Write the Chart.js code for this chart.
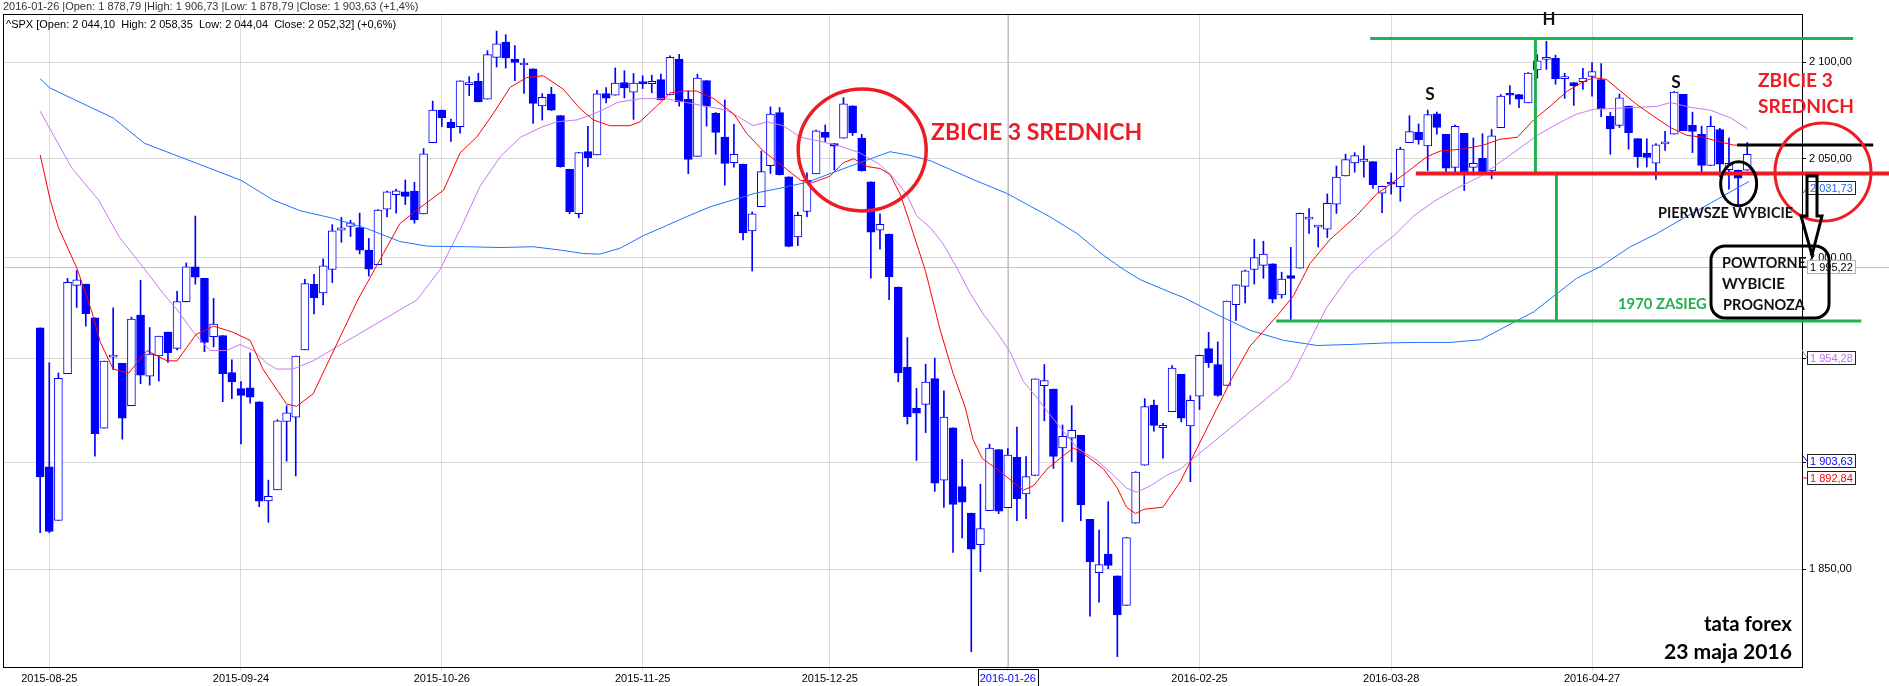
<!DOCTYPE html>
<html>
<head>
<meta charset="utf-8">
<script src="https://cdn.jsdelivr.net/npm/chart.js@4.4.1/dist/chart.umd.min.js"></script>
<style>
  html, body { margin: 0; padding: 0; background: #fff; }
  canvas { display: block; }
</style>
</head>
<body>
<canvas id="spxChart" width="1889" height="686"></canvas>
<script>
// ^SPX daily candles, 2015-08-24 .. 2016-05-20 (x = trading day index)
const openArr = [
  1965.15, 1898.08, 1872.75, 1942.77, 1986.06, 1986.73,
  1970.09, 1916.52, 1950.79, 1947.76, 1927.30, 1971.45, 1941.59, 1951.45, 1963.06, 1955.10, 1978.02, 1995.33, 1989.66, 1960.84, 1961.39, 1943.24, 1935.50, 1935.93, 1929.18, 1881.90, 1887.14,
  1919.65, 1921.77, 1954.33, 1986.63, 1982.34, 1994.01, 2013.73, 2015.65, 2015.00, 2003.66, 1996.47, 2024.37, 2031.73, 2033.13, 2033.47, 2021.88, 2058.19, 2075.08, 2068.75, 2066.48, 2088.35, 2090.00,
  2080.76, 2102.63, 2110.60, 2101.68, 2098.60, 2096.56, 2077.19, 2083.41, 2072.29, 2044.64, 2022.08, 2053.67, 2051.99, 2083.70, 2082.82, 2089.41, 2084.42, 2089.30, 2088.82, 2090.95,
  2082.93, 2101.71, 2080.71, 2051.24, 2090.42, 2073.39, 2061.17, 2047.93, 2047.27, 2013.37, 2025.55, 2046.50, 2073.76, 2040.81, 2010.27, 2023.15, 2042.20, 2063.52, 2057.77, 2060.54, 2077.34, 2060.59,
  2038.20, 2013.78, 2011.71, 1985.32, 1945.97, 1926.12, 1927.83, 1940.34, 1891.68, 1916.68, 1888.66, 1876.18, 1861.46, 1877.40, 1906.28, 1878.79, 1902.52, 1885.22, 1894.00,
  1936.94, 1935.26, 1907.07, 1911.67, 1913.07, 1873.25, 1848.46, 1857.10, 1847.00, 1833.40, 1871.44, 1898.80, 1927.57, 1916.74, 1924.44, 1942.38, 1917.56, 1931.87, 1954.95, 1947.13,
  1937.09, 1976.60, 1985.60, 1994.01, 1996.11, 1996.88, 1981.44, 1990.97, 1994.71, 2019.27, 2015.27, 2014.24, 2026.90, 2041.16, 2047.88, 2048.64, 2048.55, 2032.48, 2037.89, 2035.75, 2058.27, 2063.77,
  2056.62, 2073.19, 2062.50, 2045.56, 2063.01, 2045.54, 2050.23, 2043.72, 2065.92, 2082.89, 2083.10, 2078.83, 2096.05, 2101.52, 2102.09, 2091.49, 2089.37, 2089.84, 2092.57, 2090.93, 2071.82,
  2067.17, 2077.18, 2060.30, 2052.95, 2047.77, 2057.55, 2062.63, 2083.29, 2067.17, 2062.50, 2046.53, 2065.04, 2044.38, 2044.21, 2044.10
];
const highArr = [
  1965.15, 1948.04, 1943.09, 1989.60, 1993.48, 1986.73,
  1970.09, 1948.91, 1975.01, 1947.76, 1970.42, 1988.63, 1965.29, 1961.05, 1963.06, 1983.19, 1997.26, 2020.86, 1989.66, 1979.64, 1961.39, 1949.52, 1938.88, 1952.89, 1929.18, 1891.73, 1920.53,
  1927.21, 1951.36, 1989.17, 1991.62, 1999.31, 2016.50, 2020.13, 2018.66, 2022.34, 2009.56, 2024.15, 2033.54, 2034.45, 2039.12, 2037.97, 2055.20, 2079.74, 2075.14, 2070.37, 2090.35, 2092.52, 2094.32,
  2106.20, 2116.48, 2114.59, 2108.78, 2101.91, 2096.56, 2083.67, 2086.94, 2072.29, 2044.64, 2053.22, 2066.69, 2085.31, 2086.74, 2097.06, 2095.61, 2094.12, 2093.00, 2093.29, 2093.81,
  2103.37, 2104.27, 2085.00, 2093.84, 2090.42, 2073.85, 2080.33, 2067.65, 2047.27, 2022.92, 2053.87, 2076.72, 2076.37, 2040.81, 2022.90, 2042.74, 2064.73, 2067.36, 2057.77, 2081.56, 2077.34, 2062.54,
  2038.20, 2021.94, 2011.71, 1985.32, 1960.40, 1935.65, 1947.38, 1950.33, 1934.47, 1916.68, 1901.44, 1876.18, 1889.85, 1908.85, 1906.28, 1906.73, 1916.98, 1902.96, 1940.24,
  1947.20, 1935.26, 1918.01, 1927.35, 1913.07, 1873.25, 1868.25, 1881.60, 1847.00, 1864.78, 1895.77, 1930.68, 1930.00, 1918.78, 1946.70, 1942.38, 1932.08, 1951.83, 1962.96, 1958.27,
  1978.35, 1986.51, 1993.69, 2009.13, 2008.16, 1996.88, 1992.69, 2005.08, 2022.37, 2024.57, 2015.94, 2032.02, 2046.24, 2052.36, 2053.13, 2056.60, 2048.55, 2036.04, 2042.67, 2055.91, 2072.21, 2067.92,
  2075.07, 2074.02, 2062.50, 2067.33, 2063.01, 2060.63, 2062.93, 2065.05, 2083.18, 2087.84, 2083.22, 2094.66, 2104.05, 2111.05, 2103.78, 2094.32, 2089.37, 2096.87, 2099.89, 2099.30, 2073.85,
  2083.42, 2077.18, 2060.30, 2060.23, 2057.72, 2064.15, 2084.87, 2083.29, 2073.99, 2066.79, 2071.88, 2065.69, 2060.61, 2044.21, 2058.35
];
const lowArr = [
  1867.01, 1867.08, 1872.75, 1942.77, 1975.19, 1965.98,
  1903.07, 1916.52, 1944.72, 1911.21, 1927.30, 1937.88, 1937.19, 1939.19, 1948.27, 1954.30, 1977.93, 1986.73, 1953.45, 1955.80, 1929.22, 1930.67, 1908.92, 1928.46, 1879.21, 1871.91, 1887.14,
  1900.70, 1893.70, 1954.33, 1971.99, 1976.44, 1987.53, 2007.61, 2010.55, 2001.78, 1990.73, 1996.47, 2020.46, 2022.31, 2026.61, 2017.22, 2021.88, 2058.19, 2066.53, 2058.84, 2063.11, 2082.63, 2079.34,
  2080.76, 2097.51, 2096.98, 2090.41, 2083.74, 2068.24, 2069.91, 2074.85, 2045.66, 2022.02, 2019.94, 2045.90, 2051.99, 2078.76, 2082.82, 2081.39, 2070.29, 2086.30, 2084.13, 2080.41,
  2082.93, 2077.11, 2042.35, 2051.24, 2066.78, 2052.32, 2036.53, 2045.67, 2008.80, 1993.26, 2025.55, 2042.43, 2041.66, 2005.33, 2005.93, 2020.49, 2042.20, 2058.73, 2044.20, 2060.54, 2061.97, 2043.62,
  1989.68, 2004.17, 1979.05, 1938.83, 1918.46, 1901.10, 1914.35, 1886.41, 1878.93, 1857.83, 1864.60, 1812.29, 1848.98, 1877.40, 1875.97, 1878.79, 1872.70, 1873.65, 1894.00,
  1920.03, 1897.29, 1872.23, 1900.52, 1872.65, 1828.46, 1834.94, 1850.32, 1810.10, 1833.40, 1871.44, 1898.80, 1915.09, 1902.17, 1924.44, 1919.44, 1891.00, 1925.41, 1945.78, 1931.81,
  1937.09, 1968.80, 1977.37, 1986.77, 1989.61, 1977.43, 1979.84, 1969.25, 1994.71, 2012.05, 2005.23, 2010.04, 2022.16, 2041.16, 2043.14, 2040.57, 2034.86, 2022.49, 2031.96, 2028.31, 2058.27, 2057.46,
  2043.98, 2062.57, 2042.56, 2043.09, 2033.80, 2041.69, 2041.88, 2039.74, 2065.92, 2078.13, 2076.31, 2078.83, 2091.68, 2096.32, 2088.52, 2081.20, 2077.52, 2085.80, 2082.31, 2071.62, 2052.28,
  2066.11, 2054.89, 2045.55, 2045.77, 2039.45, 2054.31, 2062.63, 2064.46, 2053.13, 2043.13, 2046.53, 2040.82, 2034.49, 2025.91, 2044.04
];
const closeArr = [
  1893.21, 1867.61, 1940.51, 1987.66, 1988.87, 1972.18,
  1913.85, 1948.86, 1951.13, 1921.22, 1969.41, 1942.04, 1952.29, 1961.05, 1953.03, 1978.09, 1995.31, 1990.20, 1958.03, 1966.97, 1942.74, 1938.76, 1932.24, 1931.34, 1881.77, 1884.09, 1920.03,
  1923.82, 1951.36, 1987.05, 1979.92, 1995.83, 2013.43, 2014.89, 2017.46, 2003.69, 1994.24, 2023.86, 2033.11, 2033.66, 2030.77, 2018.94, 2052.51, 2075.15, 2071.18, 2065.89, 2090.35, 2089.41, 2079.36,
  2104.05, 2109.79, 2102.31, 2099.93, 2099.20, 2078.58, 2081.72, 2075.00, 2045.97, 2023.04, 2053.19, 2050.44, 2083.58, 2081.24, 2089.17, 2086.59, 2089.14, 2088.87, 2090.11, 2080.41,
  2102.63, 2079.51, 2049.62, 2091.69, 2077.07, 2063.59, 2047.62, 2052.23, 2012.37, 2021.94, 2043.41, 2073.07, 2041.89, 2005.55, 2021.15, 2038.97, 2064.29, 2060.99, 2056.50, 2078.36, 2063.36, 2043.94,
  2012.66, 2016.71, 1990.26, 1943.09, 1922.03, 1923.67, 1938.68, 1890.28, 1921.84, 1880.33, 1881.33, 1859.33, 1868.99, 1906.90, 1877.08, 1903.63, 1882.95, 1893.36, 1940.24,
  1939.38, 1903.03, 1912.53, 1915.45, 1880.05, 1853.44, 1852.21, 1851.86, 1829.08, 1864.78, 1895.58, 1926.82, 1917.83, 1917.78, 1945.50, 1921.27, 1929.80, 1951.70, 1948.05, 1932.23,
  1978.35, 1986.45, 1993.40, 1999.99, 2001.76, 1979.26, 1989.26, 1989.57, 2022.19, 2019.64, 2015.93, 2027.22, 2040.59, 2049.58, 2051.60, 2049.80, 2036.71, 2035.94, 2037.05, 2055.01, 2063.95, 2059.74,
  2072.78, 2066.13, 2045.17, 2066.66, 2041.91, 2047.60, 2041.99, 2061.72, 2082.42, 2082.78, 2080.73, 2094.34, 2100.80, 2102.40, 2091.48, 2091.58, 2087.79, 2091.70, 2095.15, 2075.81, 2065.30,
  2081.43, 2063.37, 2051.12, 2050.63, 2057.14, 2058.69, 2084.39, 2064.46, 2064.11, 2046.61, 2066.66, 2047.21, 2047.63, 2040.04, 2052.32
];

// moving averages: [day index, value]
const maFast = [
  [0,2052],[1.1,2029],[2,2015],[4,1995],[5.6,1974],[6.6,1958],[8,1945],[9.7,1943],[11.7,1954],[13.9,1949],[15,1949],
  [17.1,1962],[19,1966],[21.1,1963],[23,1959],[24.4,1945],[27,1928],[28.1,1927],[29.9,1933],[34.8,1979],[37.6,2002],
  [39.4,2017],[41.3,2024],[44.2,2034],[46,2053],[47.8,2061],[49.6,2073],[51.5,2087],[53.3,2092],[55.1,2093],[57.3,2086],
  [59.1,2076],[60.6,2070],[62.4,2067],[64.6,2067],[65.7,2069],[67.5,2077],[69,2084],[70.5,2085],[71.9,2085],[73.8,2081],
  [76,2073],[77.4,2063],[79.2,2054],[81.4,2046],[83.3,2039],[84.7,2038],[86.5,2041],[88,2048],[89.1,2050],[90.6,2046],
  [92,2045],[93.1,2042],[94.2,2032],[95.3,2017],[97,1993],[98.6,1964],[100,1943],[101.3,1927],[102.2,1911],[103.2,1902],
  [104.8,1897],[106,1892.84],[107.7,1887],[108.8,1889],[110.3,1897],[111.7,1902],[113.2,1907],[114.7,1903],[116.5,1897],
  [118,1888],[119,1879],[120,1876],[120.9,1878],[123,1879],[124.9,1891],[130.5,1940],[132.5,1956],[135.5,1971],[137.3,1981],
  [139.1,1997],[141.3,2009],[144.2,2021],[146.4,2032],[147.9,2037],[149.7,2043],[151.9,2051],[153.4,2054],[155.9,2055],
  [158.1,2057],[159.9,2060],[161.8,2061],[163.6,2070],[165.4,2077],[167.3,2085],[169.1,2090],[170.2,2092],[171.6,2091],
  [173.1,2085],[174.9,2078],[176.7,2072],[178.6,2066],[180.4,2062],[182.2,2061],[183.7,2059],[185.5,2057],[187,2057]
];
const maMid = [
  [0,2074.5],[3.5,2045],[6.4,2029],[8.7,2010],[11.3,1995],[13.5,1982],[15,1974],[16.8,1963],[18.6,1954],[20.4,1954],
  [21.9,1957],[23.4,1954],[24.8,1948],[25.9,1945],[27.7,1945],[29.9,1949],[41.3,1979],[43.8,1994],[46,2014],[48.2,2036],
  [50.4,2051],[52.6,2061],[54.8,2066],[56.6,2069],[58.8,2070],[60.6,2073],[62.4,2077],[63.2,2079],[65.7,2081],[68.6,2081],
  [70.8,2079],[73,2077],[75.2,2075],[76.7,2071],[78.1,2067],[79.6,2069],[81.4,2067],[83.3,2061],[85.4,2059],[87.6,2056.5],
  [89.8,2053],[92,2047],[93.5,2040],[94.9,2032],[96,2021],[97.5,2015],[98.9,2007],[100.4,1995],[101.9,1982],[103.3,1972],
  [104.8,1963],[106.3,1953],[107.7,1939],[109.2,1931],[110.6,1923],[112.1,1915],[113.6,1907],[115.8,1901],[117.6,1894],
  [119,1888],[120.1,1886],[121.6,1889],[123.4,1894],[124.9,1897],[136.9,1940],[139.1,1959],[140.9,1975],[143.5,1991.5],
  [146.1,2003],[148.3,2011],[150.5,2021],[152.6,2028],[155.2,2035],[157.8,2041],[161.8,2054.5],[164,2062],[166.2,2068],
  [168.3,2073],[170.2,2075.5],[172.7,2076],[174.9,2076.5],[177.1,2077],[178.6,2079],[180.8,2076.5],[183,2075],[185.2,2071],[187,2065.5]
];
const maSlow = [
  [0,2091.4],[1.1,2086.5],[8,2071],[11.4,2058],[22,2039],[25.5,2029],[28.5,2023.5],[32.1,2019.7],[35.8,2014.5],[39.4,2008],
  [42.4,2005.7],[46.7,2005.4],[50.4,2005],[54,2005.4],[57,2003.7],[59.5,2002],[61.3,2001.7],[63.5,2004.6],[66.1,2011],
  [68.6,2016],[70.8,2020.5],[73.4,2025.5],[75.9,2029],[78.5,2032.6],[81.1,2035],[84,2038],[86.9,2043],[89.8,2048],
  [93.1,2053.6],[95.3,2051.7],[97.5,2049],[102.4,2039],[105.9,2032.3],[110.6,2020.5],[113.6,2012],[116.5,2001],[118.7,1994],
  [120.5,1989],[123.1,1984],[125.3,1980],[129,1971.5],[132.5,1964],[136.2,1959],[139.9,1956.5],[143.5,1957],[147.2,1957.7],
  [150.8,1958],[154.5,1958],[157.8,1959.3],[163.6,1973],[168.3,1989.6],[170.9,1995.4],[174.2,2005.4],[177.1,2012],
  [180,2019.7],[183,2027.4],[185.5,2034],[187.2,2038.4]
];

// axis ticks
const xTickPos = [1, 22, 44, 66, 86.5, 106, 127, 148, 170];
const xTickLabels = ['2015-08-25', '2015-09-24', '2015-10-26', '2015-11-25', '2015-12-25', '2016-01-26', '2016-02-25', '2016-03-28', '2016-04-27'];
const yTicks = [1850, 1900, 1950, 2000, 2050, 2100];

// cursor (crosshair) and the value tags on the price axis
const cursorIdx = 106;
const cursorPrice = 1995.22;
const axisTags = [
  { value: 2031.73, text: '#1a6cff', border: '#222', dy: -7 },
  { value: 1995.22, text: '#000000', border: '#b4b4b4', dy: 0 },
  { value: 1954.28, text: '#c070f0', border: '#222', dy: 8 },
  { value: 1903.63, text: '#0000ff', border: '#222', dy: 6 },
  { value: 1892.84, text: '#ff0000', border: '#222', dy: 0 }
];

// hand-drawn pattern levels (head & shoulders)
const headLevel = 2112.6;
const neckLevel = 2042.5;
const targetLevel = 1968.5;
const retestLevel = 2057;

function fmtNum(v) {
  const parts = v.toFixed(2).split('.');
  return parts[0].replace(/\B(?=(\d{3})+(?!\d))/g, ' ') + ',' + parts[1];
}

const BLUE = '#0000ff';
const PAINT_RED = '#ed1c24';
const PAINT_GREEN = '#22b14c';
const LABEL_FONT = 'Lato, "Open Sans", sans-serif';

// draw bold text scaled so that it spans the given width
function fitText(ctx, text, x, y, width, color, align) {
  ctx.font = 'bold 20px ' + LABEL_FONT;
  const size = 20 * width / ctx.measureText(text).width;
  ctx.font = 'bold ' + size.toFixed(1) + 'px ' + LABEL_FONT;
  ctx.fillStyle = color;
  ctx.textAlign = align || 'left';
  ctx.textBaseline = 'middle';
  ctx.fillText(text, x, y);
}

const overlay = {
  id: 'overlay',
  beforeDatasetsDraw(chart) {
    const { ctx, chartArea: a, scales: { x, y } } = chart;
    const cx = Math.round(x.getPixelForValue(cursorIdx)) + 0.5;
    const cy = Math.round(y.getPixelForValue(cursorPrice)) + 0.5;
    ctx.save();
    ctx.strokeStyle = '#c2c2c2';
    ctx.lineWidth = 1;
    ctx.beginPath();
    ctx.moveTo(cx, a.top);
    ctx.lineTo(cx, a.bottom);
    ctx.moveTo(a.left, cy);
    ctx.lineTo(chart.width, cy);
    ctx.stroke();
    ctx.restore();
  },
  afterDraw(chart) {
    const { ctx, chartArea: a, scales: { x, y } } = chart;
    const px = i => x.getPixelForValue(i);
    const py = v => y.getPixelForValue(v);
    ctx.save();

    // plot frame
    ctx.strokeStyle = '#000';
    ctx.lineWidth = 1;
    ctx.strokeRect(a.left - 0.5, a.top - 0.5, a.right - a.left + 1, a.bottom - a.top + 1);

    // info lines
    ctx.font = '11px "Liberation Sans", Arial, sans-serif';
    ctx.textAlign = 'left';
    ctx.textBaseline = 'middle';
    ctx.fillStyle = '#333';
    ctx.fillText('2016-01-26 |Open: 1 878,79 |High: 1 906,73 |Low: 1 878,79 |Close: 1 903,63 (+1,4%)', 3, 7);
    ctx.fillStyle = '#000';
    ctx.fillText('^SPX [Open: 2 044,10  High: 2 058,35  Low: 2 044,04  Close: 2 052,32] (+0,6%)', 6, 25);

    // pattern lines
    const hLine = (v, i0, i1, color, w) => {
      ctx.strokeStyle = color; ctx.lineWidth = w;
      ctx.beginPath(); ctx.moveTo(px(i0), py(v)); ctx.lineTo(typeof i1 === 'number' ? px(i1) : chart.width, py(v)); ctx.stroke();
    };
    const vLine = (i, v0, v1, color, w) => {
      ctx.strokeStyle = color; ctx.lineWidth = w;
      ctx.beginPath(); ctx.moveTo(px(i), py(v0)); ctx.lineTo(px(i), py(v1)); ctx.stroke();
    };
    hLine(headLevel, 145.7, 198.6, PAINT_GREEN, 3);
    hLine(targetLevel, 135.4, 199.5, PAINT_GREEN, 3);
    vLine(163.8, headLevel, neckLevel, PAINT_GREEN, 3);
    vLine(166.1, neckLevel, targetLevel, PAINT_GREEN, 3);
    hLine(neckLevel, 150.7, null, PAINT_RED, 4);
    hLine(retestLevel, 185.9, 200.8, '#000', 3);

    // ellipses
    const ellipse = (i, v, rx, ry, color, w) => {
      ctx.strokeStyle = color; ctx.lineWidth = w;
      ctx.beginPath(); ctx.ellipse(px(i), py(v), rx, ry, 0, 0, Math.PI * 2); ctx.stroke();
    };
    ellipse(90.05, 2054.5, 64, 61, PAINT_RED, 3.5);
    ellipse(195.3, 2043.2, 48, 49, PAINT_RED, 3);
    ellipse(186.06, 2037.2, 18, 22, '#000', 3);

    // value tags on the price axis (with a short leader from the plot edge)
    ctx.font = '11px "Liberation Sans", Arial, sans-serif';
    ctx.textBaseline = 'middle';
    ctx.textAlign = 'left';
    axisTags.forEach(t => {
      const vy = py(t.value);
      const ty = Math.round(vy + t.dy);
      ctx.strokeStyle = t.text; ctx.lineWidth = 1;
      ctx.beginPath(); ctx.moveTo(a.right, vy); ctx.lineTo(1807, ty); ctx.stroke();
      ctx.fillStyle = '#fff';
      ctx.fillRect(1807, ty - 6, 48, 13);
      ctx.strokeStyle = t.border;
      ctx.strokeRect(1807.5, ty - 6.5, 48, 13);
      ctx.fillStyle = t.text;
      ctx.fillText(fmtNum(t.value), 1810, ty + 0.5);
    });

    // down arrow
    ctx.strokeStyle = '#000'; ctx.lineWidth = 3; ctx.lineJoin = 'miter';
    ctx.beginPath();
    ctx.moveTo(1807, 176); ctx.lineTo(1817, 176); ctx.lineTo(1817, 216); ctx.lineTo(1822, 216);
    ctx.lineTo(1812, 255); ctx.lineTo(1801, 216); ctx.lineTo(1807, 216); ctx.closePath();
    ctx.stroke();

    // rounded box
    ctx.lineWidth = 3;
    ctx.beginPath();
    ctx.roundRect(1711, 246, 118, 72, 14);
    ctx.stroke();

    // hand-written labels
    fitText(ctx, 'ZBICIE 3 SREDNICH', 931, 133, 211, PAINT_RED);
    fitText(ctx, 'ZBICIE 3', 1758, 81, 75, PAINT_RED);
    fitText(ctx, 'SREDNICH', 1758, 107, 96, PAINT_RED);
    fitText(ctx, 'H', 1549, 20, 13, '#111', 'center');
    fitText(ctx, 'S', 1430, 94, 9.5, '#111', 'center');
    fitText(ctx, 'S', 1676, 82, 9.5, '#111', 'center');
    fitText(ctx, 'PIERWSZE WYBICIE', 1658, 213, 135, '#111');
    fitText(ctx, 'POWTORNE', 1722, 263, 84, '#111');
    fitText(ctx, 'WYBICIE', 1722, 284, 63, '#111');
    fitText(ctx, 'PROGNOZA', 1723, 305, 82, '#111');
    fitText(ctx, '1970 ZASIEG', 1618, 304, 89, PAINT_GREEN);
    fitText(ctx, 'tata forex', 1792, 624, 88, '#000', 'right');
    fitText(ctx, '23 maja 2016', 1792, 652, 128, '#000', 'right');

    // cursor date box on the time axis
    const cx = Math.round(px(cursorIdx));
    ctx.strokeStyle = '#000'; ctx.lineWidth = 1;
    ctx.strokeRect(cx - 29.5, a.bottom + 2.5, 60, 17);

    ctx.restore();
  }
};

const candleIdx = closeArr.map((c, i) => i);

new Chart(document.getElementById('spxChart'), {
  type: 'bar',
  data: {
    datasets: [
      {
        type: 'line', label: 'SMA fast', order: 0,
        data: maFast.map(p => ({ x: p[0], y: p[1] })),
        borderColor: '#ff0000', borderWidth: 1, pointRadius: 0, tension: 0
      },
      {
        type: 'line', label: 'SMA mid', order: 0,
        data: maMid.map(p => ({ x: p[0], y: p[1] })),
        borderColor: '#c878f5', borderWidth: 1, pointRadius: 0, tension: 0
      },
      {
        type: 'line', label: 'SMA slow', order: 0,
        data: maSlow.map(p => ({ x: p[0], y: p[1] })),
        borderColor: '#1a72ff', borderWidth: 1, pointRadius: 0, tension: 0
      },
      {
        label: 'body', order: 1, grouped: false,
        data: candleIdx.map(i => ({ x: i, y: [openArr[i], closeArr[i]] })),
        backgroundColor: c => closeArr[c.dataIndex] < openArr[c.dataIndex] ? BLUE : '#ffffff',
        borderColor: BLUE, borderWidth: 1, borderSkipped: false,
        barThickness: 8, minBarLength: 2
      },
      {
        label: 'wick', order: 2, grouped: false,
        data: candleIdx.map(i => ({ x: i, y: [lowArr[i], highArr[i]] })),
        backgroundColor: BLUE, borderWidth: 0, barThickness: 1
      }
    ]
  },
  options: {
    responsive: false,
    animation: false,
    events: [],
    layout: { padding: { top: 15, left: 4, right: 0, bottom: 0 } },
    plugins: { legend: { display: false }, tooltip: { enabled: false } },
    scales: {
      x: {
        type: 'linear', min: -3.96, max: 193, offset: false,
        afterBuildTicks: s => { s.ticks = xTickPos.map(v => ({ value: v })); },
        afterFit: s => { s.height = 19; },
        grid: { color: '#d9d9d9', tickColor: '#d9d9d9', tickLength: 4, offset: false },
        border: { display: true, color: '#000' },
        ticks: {
          autoSkip: false, maxRotation: 0, padding: 1,
          font: { family: '"Liberation Sans", Arial, sans-serif', size: 11 },
          color: c => (c.tick && c.tick.value === cursorIdx) ? '#0000ff' : '#000',
          callback: v => xTickLabels[xTickPos.indexOf(v)] || ''
        }
      },
      y: {
        type: 'logarithmic', position: 'right', min: 1805.4, max: 2125,
        afterBuildTicks: s => { s.ticks = yTicks.map(v => ({ value: v })); },
        afterFit: s => { s.width = 87; },
        grid: { color: '#d9d9d9', tickColor: '#000', tickLength: 4 },
        border: { display: true, color: '#000' },
        ticks: {
          padding: 3, color: '#000',
          font: { family: '"Liberation Sans", Arial, sans-serif', size: 11 },
          callback: v => fmtNum(v)
        }
      }
    }
  },
  plugins: [overlay]
});
</script>
</body>
</html>
